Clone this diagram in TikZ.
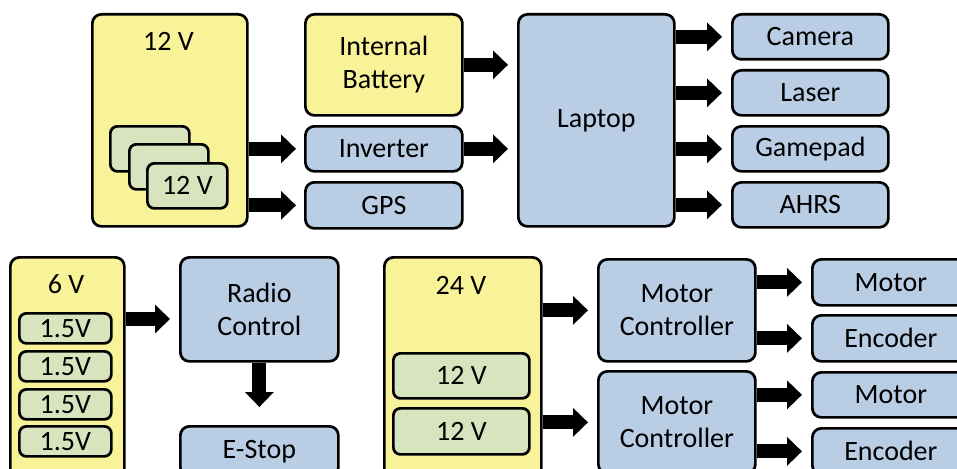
\documentclass[tikz,border=0pt]{standalone}
\usepackage{fontspec}
\setmainfont{Carlito}
\usetikzlibrary{arrows.meta}
\definecolor{ylw}{RGB}{248,242,152}
\definecolor{blu}{RGB}{185,205,229}
\definecolor{grn}{RGB}{215,228,189}
\begin{document}
\begin{tikzpicture}[x=1pt,y=-1pt,
  box/.style={draw=black, line width=2.7pt, rounded corners=9pt, anchor=north west,
    inner sep=0pt, align=center, font=\fontsize{28}{33}\selectfont},
  ybox/.style={box, fill=ylw},
  bbox/.style={box, fill=blu},
  gbox/.style={box, fill=grn, rounded corners=7pt},
  lbl/.style={inner sep=0pt, font=\fontsize{28}{33}\selectfont},
  bigarrow/.style={line width=14pt, -{Triangle[width=28pt,length=15pt]}, shorten >=9pt}]
\useasboundingbox (0,0) rectangle (957,468);
\clip (0,0) rectangle (957,468);
% top row
\node[ybox, minimum width=155pt, minimum height=212pt] (twelve) at (91,13) {};
\node[lbl] (l12) at (168.5,41) {12 V};
\node[gbox, minimum width=79pt, minimum height=45pt] (g1) at (109,125) {};
\node[gbox, minimum width=79pt, minimum height=45pt] (g2) at (128,143) {};
\node[gbox, minimum width=80pt, minimum height=45pt] (g3) at (146,162) {12 V};
\node[ybox, minimum width=157pt, minimum height=101pt] (bat) at (304,13) {Internal\\Battery};
\node[bbox, minimum width=157pt, minimum height=45pt] (inv) at (304,125) {Inverter};
\node[bbox, minimum width=157pt, minimum height=46pt] (gps) at (304,181) {GPS};
\node[bbox, minimum width=156pt, minimum height=212pt] (lap) at (517,13) {Laptop};
\node[bbox, minimum width=156pt, minimum height=45pt] (cam) at (731,13) {Camera};
\node[bbox, minimum width=156pt, minimum height=45pt] (las) at (731,69) {Laser};
\node[bbox, minimum width=156pt, minimum height=45pt] (gam) at (731,125) {Gamepad};
\node[bbox, minimum width=156pt, minimum height=45pt] (ahr) at (731,181) {AHRS};
% bottom left
\node[ybox, minimum width=114pt, minimum height=222pt] (six) at (9,256) {};
\node[lbl] (l6) at (66,284) {6 V};
\node[gbox, minimum width=92pt, minimum height=30pt] (c1) at (18,312) {1.5V};
\node[gbox, minimum width=92pt, minimum height=30pt] (c2) at (18,350) {1.5V};
\node[gbox, minimum width=92pt, minimum height=30pt] (c3) at (18,388) {1.5V};
\node[gbox, minimum width=92pt, minimum height=30pt] (c4) at (18,425) {1.5V};
\node[bbox, minimum width=158pt, minimum height=104pt] (radio) at (179,256) {Radio\\Control};
\node[bbox, minimum width=158pt, minimum height=50pt] (estop) at (179,425) {E-Stop};
% bottom right
\node[ybox, minimum width=157pt, minimum height=222pt] (v24) at (383,256) {};
\node[lbl] (l24) at (461,285) {24 V};
\node[gbox, minimum width=136pt, minimum height=45pt] (ga) at (392,352) {12 V};
\node[gbox, minimum width=136pt, minimum height=46pt] (gb) at (392,407) {12 V};
\node[bbox, minimum width=157pt, minimum height=102pt] (mc1) at (597,258) {Motor\\Controller};
\node[bbox, minimum width=157pt, minimum height=102pt] (mc2) at (597,370) {Motor\\Controller};
\node[bbox, minimum width=157pt, minimum height=46pt] (m1) at (811,258) {Motor};
\node[bbox, minimum width=157pt, minimum height=46pt] (e1) at (811,314) {Encoder};
\node[bbox, minimum width=157pt, minimum height=45pt] (m2) at (811,371) {Motor};
\node[bbox, minimum width=157pt, minimum height=46pt] (e2) at (811,427) {Encoder};
% arrows
\draw[bigarrow, shorten >=8pt] (twelve.east |- inv.west) -- (inv.west);
\draw[bigarrow, shorten >=8pt] (twelve.east |- gps.west) -- (gps.west);
\draw[bigarrow] (bat.east) -- (bat.east -| lap.west);
\draw[bigarrow] (inv.east) -- (inv.east -| lap.west);
\draw[bigarrow] (lap.east |- cam.west) -- (cam.west);
\draw[bigarrow] (lap.east |- las.west) -- (las.west);
\draw[bigarrow] (lap.east |- gam.west) -- (gam.west);
\draw[bigarrow] (lap.east |- ahr.west) -- (ahr.west);
\coordinate (s1) at (0,319);
\draw[bigarrow] (six.east |- s1) -- (radio.west |- s1);
\draw[bigarrow, shorten >=18pt] (radio.south) -- (estop.north);
\draw[bigarrow] (v24.east |- mc1.west) -- (mc1.west);
\draw[bigarrow] (v24.east |- mc2.west) -- (mc2.west);
\draw[bigarrow] (mc1.east |- m1.west) -- (m1.west);
\draw[bigarrow] (mc1.east |- e1.west) -- (e1.west);
\draw[bigarrow] (mc2.east |- m2.west) -- (m2.west);
\draw[bigarrow] (mc2.east |- e2.west) -- (e2.west);
\end{tikzpicture}
\end{document}
